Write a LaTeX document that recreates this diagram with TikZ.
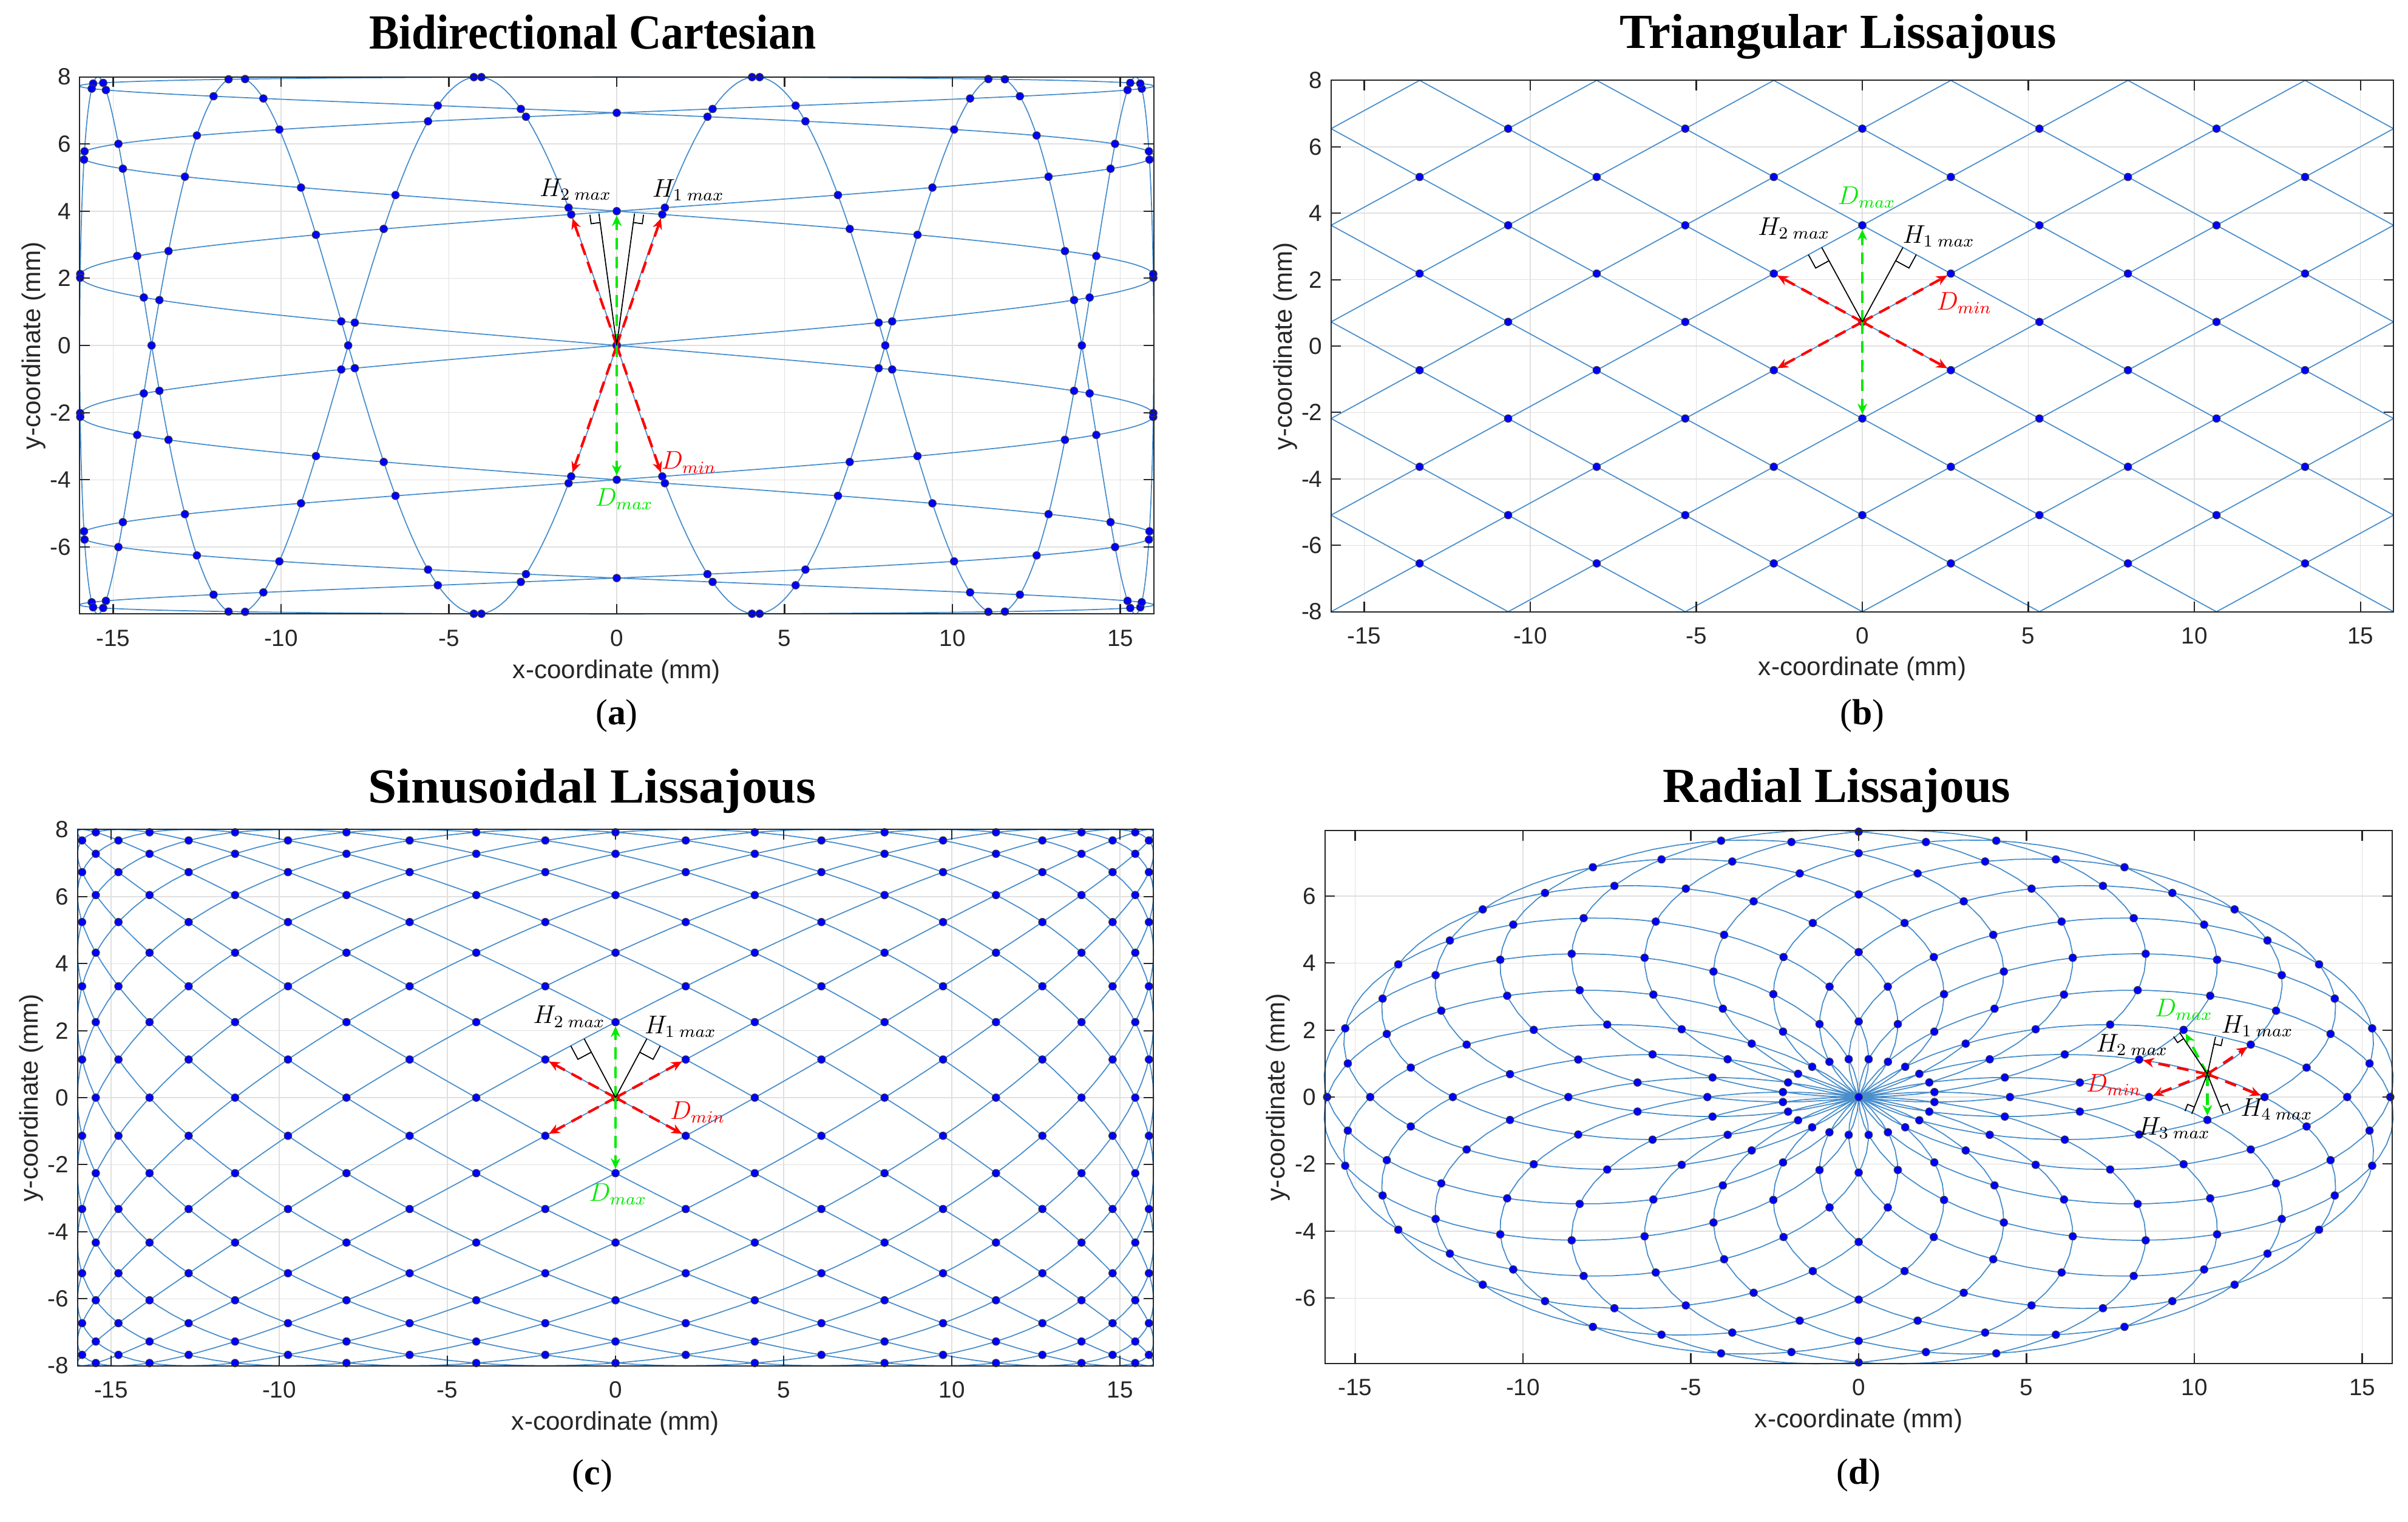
\documentclass[tikz,border=0pt]{standalone}
\usepackage{fontspec}
\setmainfont{Liberation Serif}
\newfontfamily\axfont{Liberation Sans}
\usepackage{tikz}
\usetikzlibrary{calc, arrows.meta}
\definecolor{scanblue}{RGB}{72,142,204}
\definecolor{dotblue}{RGB}{0,0,255}
\definecolor{dmaxgreen}{RGB}{0,235,0}
\definecolor{dminred}{RGB}{255,0,0}
\definecolor{axgray}{RGB}{38,38,38}
% right angle mark: foot, towards, size, turn
\newcommand{\rtsquare}[4]{%
  \coordinate (rm-a) at ($(#1)!#3!(#2)$);
  \coordinate (rm-b) at ($(#1)!#3!#4:(#2)$);
  \draw[hline] (rm-a) -- ($(rm-a)+(rm-b)-(#1)$) -- (rm-b);}

\begin{document}
\begin{tikzpicture}[
  scan/.style={draw=scanblue, line width=0.5pt},
  dot/.style={circle, fill=dotblue, draw=black!75, line width=0.3pt, inner sep=0pt, minimum size=3.6pt},
  gridline/.style={draw=black!12, line width=0.4pt},
  axisline/.style={draw=axgray, line width=0.6pt},
  ticklab/.style={font=\axfont\fontsize{11}{13}\selectfont, text=axgray, inner sep=0pt},
  axlab/.style={font=\axfont\fontsize{12}{14}\selectfont, text=axgray, inner sep=0pt},
  ptitle/.style={font=\bfseries\fontsize{23}{26}\selectfont, anchor=base},
  sublab/.style={font=\fontsize{17}{20}\selectfont},
  dminarrow/.style={draw=dminred, line width=1.2pt, dash pattern=on 5.5pt off 3.5pt, -{Stealth[length=5pt, width=4.5pt]}, shorten >=2pt},
  dmaxarrow/.style={dminarrow, draw=dmaxgreen},
  hline/.style={draw=black, line width=0.5pt},
  lab/.style={font=\fontsize{12}{14}\selectfont, inner sep=0pt}]
\useasboundingbox (0,0) rectangle (39.67,-25.06);

% (a) bidirectional cartesian
\begin{scope}[shift={(10.16,-5.69)}, x=0.553cm, y=0.553cm]
  \foreach \gx in {-15,-10,...,15} \draw[gridline] (\gx,-8) -- (\gx,8);
  \foreach \gy in {-6,-4,...,6} \draw[gridline] (-16,\gy) -- (16,\gy);
  \draw[scan] plot[domain=0:360, samples=721] ({16*sin(6*\x)},{8*sin(\x)});
  \draw[scan] plot[domain=0:360, samples=721] ({16*sin(\x)},{8*sin(6*\x)});
  % crossings of the two scans
  \foreach \sa in {1,-1}
  \foreach \sb in {1,-1}
  \foreach \p in {-3,...,3}
  \foreach \r in {-3,...,3} {
    \pgfmathsetmacro\al{(1080*(\sa)*(\r)+180*(\p))/(1-36*(\sa)*(\sb))}
    \pgfmathsetmacro\be{6*(\sb)*\al+180*(\r)}
    \pgfmathtruncatemacro\inbox{(abs(\al)<89.9)&&(abs(\be)<89.9)}
    \ifnum\inbox=1 \node[dot] (a-\sa\sb\p\r) at ({16*sin(\al)},{8*sin(\be)}) {};\fi
  }
  \foreach \v in {-60,-30,0,30,60} {
    \node[dot] (a-h\v) at (0,{8*sin(\v)}) {};
    \node[dot] (a-v\v) at ({16*sin(\v)},0) {};
  }
  % frame
  \draw[axisline] (-16,-8) rectangle (16,8);
  \foreach \gx in {-15,-10,...,15} {
    \draw[axisline] (\gx,-8) -- ++(0,0.3) (\gx,8) -- ++(0,-0.3);
    \node[ticklab] (a-x\gx) at (\gx,-8.72) {\gx};
  }
  \foreach \gy in {-6,-4,...,8} {
    \draw[axisline] (-16,\gy) -- ++(0.3,0) (16,\gy) -- ++(-0.3,0);
    \node[ticklab, anchor=east] (a-y\gy) at (-16.25,\gy) {\gy};
  }
  \node[axlab] (a-xl) at (0,-9.72) {x-coordinate (mm)};
  \node[axlab, rotate=90] (a-yl) at (-17.37,0) {y-coordinate (mm)};
  \node[ptitle] (a-t) at (-0.72,8.84) {\scalebox{0.915}[1]{Bidirectional Cartesian}};
  \node[sublab] (a-s) at (0,-11.03) {(\textbf{a})};
  % distances
  \coordinate (a-c) at (0,0);
  \coordinate (a-r1) at (1.357,3.902);
  \coordinate (a-r2) at (-1.357,3.902);
  \coordinate (a-r3) at (-1.357,-3.902);
  \coordinate (a-r4) at (1.357,-3.902);
  \coordinate (a-g1) at (0,4);
  \coordinate (a-g2) at (0,-4);
  \coordinate (a-f1) at (0.53,3.93);
  \coordinate (a-f2) at (-0.53,3.93);
  \foreach \k in {1,...,4} \draw[dminarrow] (a-c) -- (a-r\k);
  \draw[dmaxarrow] (a-c) -- (a-g1);
  \draw[dmaxarrow] (a-c) -- (a-g2);
  \draw[hline] (a-c) -- (a-f1) (a-c) -- (a-f2);
  \rtsquare{a-f1}{a-c}{0.15cm}{90}
  \rtsquare{a-f2}{a-c}{0.15cm}{-90}
  \node[lab] (a-h2) at (-1.23,4.65) {$H_{2\;max}$};
  \node[lab] (a-h1) at (2.13,4.63) {$H_{1\;max}$};
  \node[lab, text=dminred] (a-dn) at (2.15,-3.48) {$D_{min}$};
  \node[lab, text=dmaxgreen] (a-dx) at (0.22,-4.58) {$D_{max}$};
\end{scope}

% (b) triangular lissajous
\begin{scope}[shift={(30.68,-5.70)}, x=0.547cm, y=0.547cm]
  \foreach \gx in {-15,-10,...,15} \draw[gridline] (\gx,-8) -- (\gx,8);
  \foreach \gy in {-6,-4,...,6} \draw[gridline] (-16,\gy) -- (16,\gy);
  \begin{scope}
    \clip (-16,-8) rectangle (16,8);
    \foreach \k in {-6,...,6} {
      \draw[scan] ({8/3*(2*\k-6)},-8) -- ({8/3*(2*\k+5)},8);
      \draw[scan] ({8/3*(2*\k+6)},-8) -- ({8/3*(2*\k-5)},8);
    }
  \end{scope}
  \foreach \u in {-5,...,5}
  \foreach \v in {-5,...,4} {
    \ifodd\numexpr\u+\v\relax\else
      \node[dot] (b-\u-\v) at ({8/3*\u},{-8+16/11*(\v+6)}) {};
    \fi
  }
  \draw[axisline] (-16,-8) rectangle (16,8);
  \foreach \gx in {-15,-10,...,15} {
    \draw[axisline] (\gx,-8) -- ++(0,0.3) (\gx,8) -- ++(0,-0.3);
    \node[ticklab] (b-x\gx) at (\gx,-8.72) {\gx};
  }
  \foreach \gy in {-8,-6,...,8} {
    \draw[axisline] (-16,\gy) -- ++(0.3,0) (16,\gy) -- ++(-0.3,0);
    \node[ticklab, anchor=east] (b-y\gy) at (-16.25,\gy) {\gy};
  }
  \node[axlab] (b-xl) at (0,-9.72) {x-coordinate (mm)};
  \node[axlab, rotate=90] (b-yl) at (-17.37,0) {y-coordinate (mm)};
  \node[ptitle] (b-t) at (-0.72,8.96) {Triangular Lissajous};
  \node[sublab] (b-s) at (0,-11.13) {(\textbf{b})};
  % distances
  \coordinate (b-c) at (0,{-8+96/11});
  \coordinate (b-r1) at ({8/3},{-8+112/11});
  \coordinate (b-r2) at ({-8/3},{-8+112/11});
  \coordinate (b-r3) at ({-8/3},{-8+80/11});
  \coordinate (b-r4) at ({8/3},{-8+80/11});
  \coordinate (b-g1) at (0,{-8+128/11});
  \coordinate (b-g2) at (0,{-8+64/11});
  \coordinate (b-f1) at ($(b-g1)!(b-c)!(b-r1)$);
  \coordinate (b-f2) at ($(b-g1)!(b-c)!(b-r2)$);
  \foreach \k in {1,...,4} \draw[dminarrow] (b-c) -- (b-r\k);
  \draw[dmaxarrow] (b-c) -- (b-g1);
  \draw[dmaxarrow] (b-c) -- (b-g2);
  \draw[hline] (b-c) -- (b-f1) (b-c) -- (b-f2);
  \rtsquare{b-f1}{b-c}{0.25cm}{90}
  \rtsquare{b-f2}{b-c}{0.25cm}{-90}
  \node[lab, text=dmaxgreen] (b-dx) at (0.13,4.48) {$D_{max}$};
  \node[lab] (b-h2) at (-2.06,3.54) {$H_{2\;max}$};
  \node[lab] (b-h1) at (2.30,3.31) {$H_{1\;max}$};
  \node[lab, text=dminred] (b-dn) at (3.07,1.30) {$D_{min}$};
\end{scope}

% (c) sinusoidal lissajous
\begin{scope}[shift={(10.14,-18.08)}, x=0.554cm, y=0.552cm]
  \foreach \gx in {-15,-10,...,15} \draw[gridline] (\gx,-8) -- (\gx,8);
  \foreach \gy in {-6,-4,...,6} \draw[gridline] (-16,\gy) -- (16,\gy);
  \draw[scan] plot[domain=0:360, samples=1441] ({16*sin(11*\x)},{8*sin(12*\x)});
  \foreach \i in {-11,...,11}
  \foreach \j in {-10,...,10} {
    \ifodd\numexpr\i+\j\relax\else
      \node[dot] (c-\i-\j) at ({16*sin(7.5*\i)},{8*sin(90/11*\j)}) {};
    \fi
  }
  \draw[axisline] (-16,-8) rectangle (16,8);
  \foreach \gx in {-15,-10,...,15} {
    \draw[axisline] (\gx,-8) -- ++(0,0.3) (\gx,8) -- ++(0,-0.3);
    \node[ticklab] (c-x\gx) at (\gx,-8.72) {\gx};
  }
  \foreach \gy in {-8,-6,...,8} {
    \draw[axisline] (-16,\gy) -- ++(0.3,0) (16,\gy) -- ++(-0.3,0);
    \node[ticklab, anchor=east] (c-y\gy) at (-16.25,\gy) {\gy};
  }
  \node[axlab] (c-xl) at (0,-9.72) {x-coordinate (mm)};
  \node[axlab, rotate=90] (c-yl) at (-17.37,0) {y-coordinate (mm)};
  \node[ptitle] (c-t) at (-0.69,8.80) {\scalebox{1.05}[1]{Sinusoidal Lissajous}};
  \node[sublab] (c-s) at (-0.69,-11.29) {(\textbf{c})};
  % distances
  \coordinate (c-c) at (0,0);
  \coordinate (c-r1) at ({16*sin(7.5)},{8*sin(90/11)});
  \coordinate (c-r2) at ({-16*sin(7.5)},{8*sin(90/11)});
  \coordinate (c-r3) at ({-16*sin(7.5)},{-8*sin(90/11)});
  \coordinate (c-r4) at ({16*sin(7.5)},{-8*sin(90/11)});
  \coordinate (c-g1) at (0,{8*sin(180/11)});
  \coordinate (c-g2) at (0,{-8*sin(180/11)});
  \coordinate (c-f1) at ($(c-g1)!(c-c)!(c-r1)$);
  \coordinate (c-f2) at ($(c-g1)!(c-c)!(c-r2)$);
  \foreach \k in {1,...,4} \draw[dminarrow] (c-c) -- (c-r\k);
  \draw[dmaxarrow] (c-c) -- (c-g1);
  \draw[dmaxarrow] (c-c) -- (c-g2);
  \draw[hline] (c-c) -- (c-f1) (c-c) -- (c-f2);
  \rtsquare{c-f1}{c-c}{0.25cm}{90}
  \rtsquare{c-f2}{c-c}{0.25cm}{-90}
  \node[lab] (c-h2) at (-1.38,2.42) {$H_{2\;max}$};
  \node[lab] (c-h1) at (1.93,2.12) {$H_{1\;max}$};
  \node[lab, text=dminred] (c-dn) at (2.44,-0.43) {$D_{min}$};
  \node[lab, text=dmaxgreen] (c-dx) at (0.07,-2.88) {$D_{max}$};
\end{scope}

% (d) radial lissajous
\begin{scope}[shift={(30.62,-18.07)}, x=0.553cm, y=0.552cm]
  \foreach \gx in {-15,-10,...,15} \draw[gridline] (\gx,-7.95) -- (\gx,7.95);
  \foreach \gy in {-6,-4,...,6} \draw[gridline] (-15.9,\gy) -- (15.9,\gy);
  \draw[scan] plot[domain=0:360, samples=1441] ({16*sin(12*\x)*cos(11*\x)},{8*sin(12*\x)*sin(11*\x)});
  \foreach \m in {1,...,10}
  \foreach \n in {0,...,47} {
    \ifodd\numexpr\m+\n\relax\else
      \node[dot] (d-\m-\n) at ({16*sin(90/11*\m)*cos(7.5*\n)},{8*sin(90/11*\m)*sin(7.5*\n)}) {};
    \fi
  }
  \node[dot] (d-0) at (0,0) {};
  \draw[axisline] (-15.9,-7.95) rectangle (15.9,7.95);
  \foreach \gx in {-15,-10,...,15} {
    \draw[axisline] (\gx,-7.95) -- ++(0,0.3) (\gx,7.95) -- ++(0,-0.3);
    \node[ticklab] (d-x\gx) at (\gx,-8.67) {\gx};
  }
  \foreach \gy in {-6,-4,...,6} {
    \draw[axisline] (-15.9,\gy) -- ++(0.3,0) (15.9,\gy) -- ++(-0.3,0);
    \node[ticklab, anchor=east] (d-y\gy) at (-16.15,\gy) {\gy};
  }
  \node[axlab] (d-xl) at (0,-9.67) {x-coordinate (mm)};
  \node[axlab, rotate=90] (d-yl) at (-17.29,0) {y-coordinate (mm)};
  \node[ptitle] (d-t) at (-0.65,8.79) {Radial Lissajous};
  \node[sublab] (d-s) at (0,-11.29) {(\textbf{d})};
  % distances
  \coordinate (d-c) at ({16*sin(450/11)*cos(7.5)},{8*sin(450/11)*sin(7.5)});
  \coordinate (d-g1) at ({16*sin(450/11)*cos(22.5)},{8*sin(450/11)*sin(22.5)});
  \coordinate (d-g2) at ({16*sin(450/11)*cos(7.5)},{-8*sin(450/11)*sin(7.5)});
  \coordinate (d-r1) at ({16*sin(540/11)*cos(15)},{8*sin(540/11)*sin(15)});
  \coordinate (d-r2) at ({16*sin(360/11)*cos(15)},{8*sin(360/11)*sin(15)});
  \coordinate (d-r3) at ({16*sin(360/11)},0);
  \coordinate (d-r4) at ({16*sin(540/11)},0);
  \coordinate (d-f1) at ($(d-g1)!(d-c)!(d-r1)$);
  \coordinate (d-f2) at ($(d-g1)!(d-c)!(d-r2)$);
  \coordinate (d-f3) at ($(d-r3)!(d-c)!(d-g2)$);
  \coordinate (d-f4) at ($(d-g2)!(d-c)!(d-r4)$);
  \foreach \k in {1,...,4} \draw[dminarrow] (d-c) -- (d-r\k);
  \draw[dmaxarrow] (d-c) -- (d-g1);
  \draw[dmaxarrow] (d-c) -- (d-g2);
  \foreach \k in {1,...,4} \draw[hline] (d-c) -- (d-f\k);
  \rtsquare{d-f1}{d-c}{0.12cm}{90}
  \rtsquare{d-f2}{d-c}{0.12cm}{-90}
  \rtsquare{d-f3}{d-c}{0.12cm}{90}
  \rtsquare{d-f4}{d-c}{0.12cm}{-90}
  \node[lab, text=dmaxgreen] (d-dx) at (9.68,2.61) {$D_{max}$};
  \node[lab] (d-h1) at (11.87,2.12) {$H_{1\;max}$};
  \node[lab] (d-h2) at (8.14,1.56) {$H_{2\;max}$};
  \node[lab, text=dminred] (d-dn) at (7.60,0.36) {$D_{min}$};
  \node[lab] (d-h4) at (12.45,-0.36) {$H_{4\;max}$};
  \node[lab] (d-h3) at (9.40,-0.93) {$H_{3\;max}$};
\end{scope}
\end{tikzpicture}
\end{document}
